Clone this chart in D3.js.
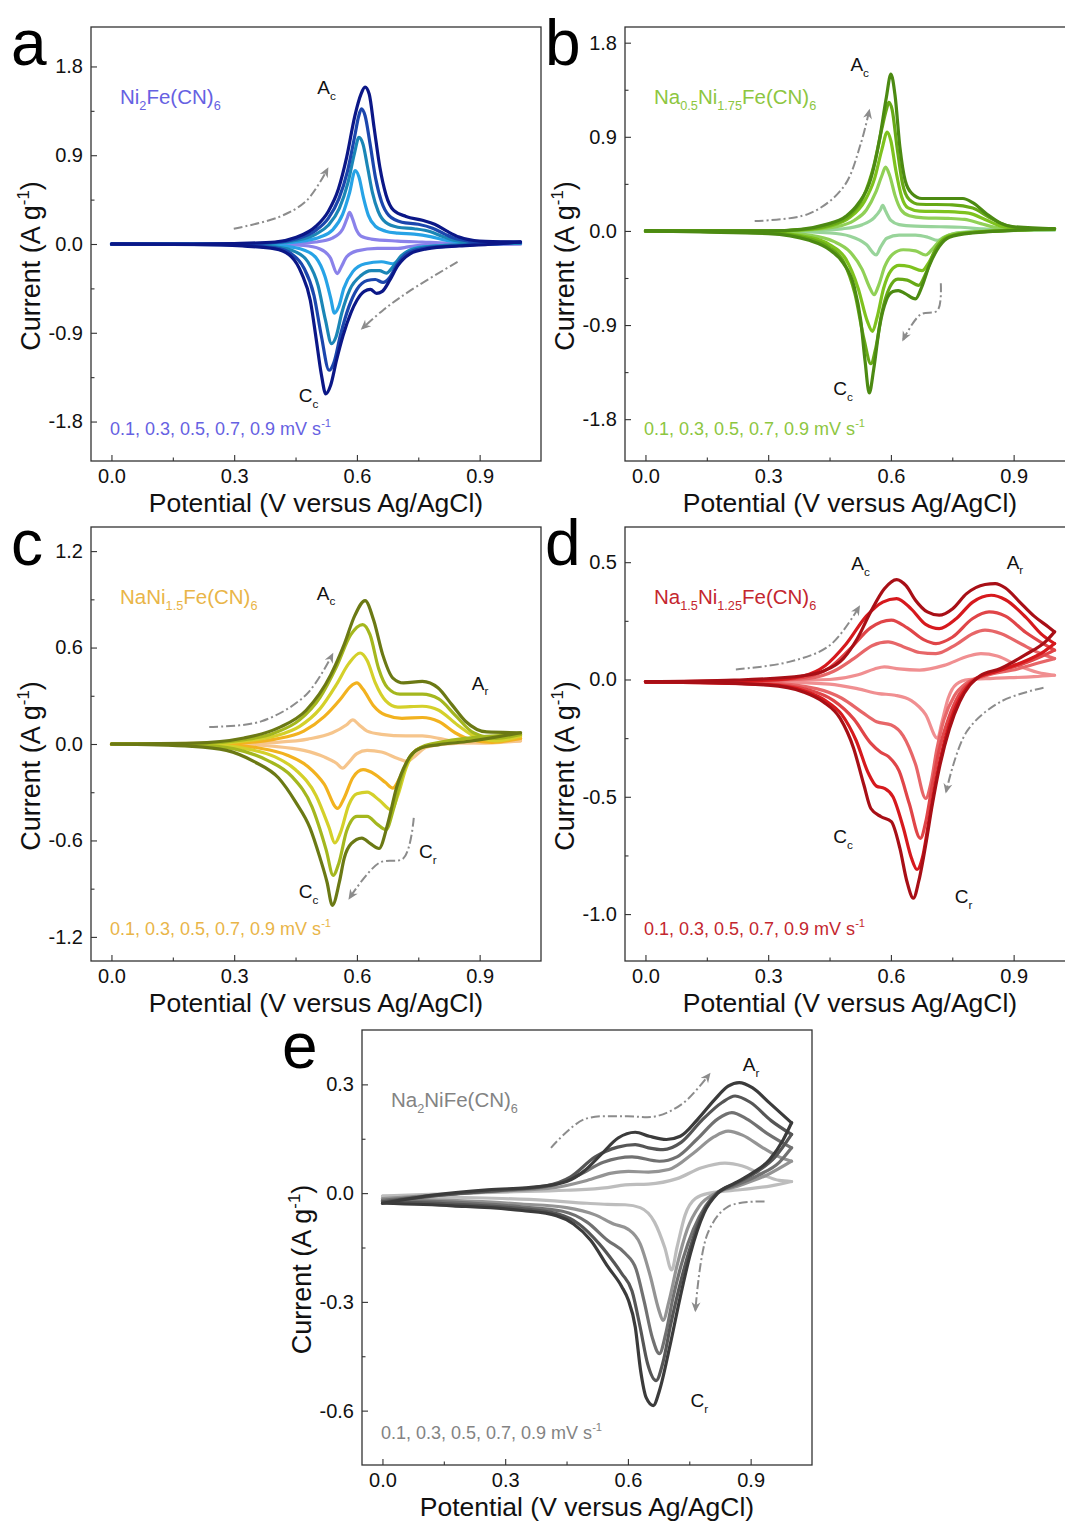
<!DOCTYPE html>
<html>
<head>
<meta charset="utf-8">
<script src="https://cdn.jsdelivr.net/npm/d3@7"></script>
<style>
  body { margin: 0; background: #fff; }
  svg { display: block; font-family: "Liberation Sans", Arial, sans-serif; }
</style>
</head>
<body>
<svg id="chart" width="1065" height="1522"></svg>
<script>
const scanRates = [0.1, 0.3, 0.5, 0.7, 0.9];
const rateText = "0.1, 0.3, 0.5, 0.7, 0.9 mV s";
const xMajor = [0, 0.3, 0.6, 0.9];
const xMinor = [0.15, 0.45, 0.75];

// ---- panel a : Ni2Fe(CN)6 ----
const aYMajor = [-1.8, -0.9, 0, 0.9, 1.8];
const aYMinor = [-1.35, -0.45, 0.45, 1.35];
const aColors = ['#8a82ea', '#27a3e6', '#1b86b6', '#1b46ad', '#0b1787'];
const aOx = [
  [[0,0],[0.3,0],[0.45,0.005],[0.5,0.02],[0.54,0.06],[0.565,0.15],[0.576,0.26],[0.582,0.32],[0.589,0.26],[0.598,0.15],[0.61,0.08],[0.635,0.05],[0.7,0.03],[0.76,0.02],[0.82,0.01],[1.0,0.0]],
  [[0,0],[0.35,0],[0.42,0.01],[0.47,0.03],[0.51,0.07],[0.54,0.14],[0.565,0.3],[0.582,0.52],[0.596,0.745],[0.605,0.68],[0.616,0.47],[0.628,0.29],[0.645,0.18],[0.67,0.13],[0.7,0.11],[0.74,0.1],[0.78,0.075],[0.82,0.035],[0.86,0.015],[0.92,0.005],[1.0,0.01]],
  [[0,0],[0.3,0],[0.4,0.01],[0.45,0.035],[0.5,0.1],[0.53,0.19],[0.557,0.36],[0.578,0.62],[0.594,0.92],[0.605,1.08],[0.615,1.01],[0.626,0.78],[0.638,0.52],[0.652,0.33],[0.67,0.22],[0.7,0.17],[0.74,0.155],[0.78,0.125],[0.81,0.075],[0.84,0.035],[0.88,0.015],[1.0,0.01]],
  [[0,0],[0.3,0],[0.4,0.015],[0.45,0.05],[0.5,0.14],[0.53,0.26],[0.556,0.46],[0.577,0.74],[0.595,1.1],[0.604,1.29],[0.611,1.37],[0.62,1.3],[0.632,1.02],[0.646,0.66],[0.66,0.43],[0.678,0.29],[0.71,0.22],[0.75,0.2],[0.785,0.16],[0.815,0.1],[0.845,0.05],[0.9,0.02],[1.0,0.02]],
  [[0,0],[0.2,0],[0.3,0.005],[0.4,0.02],[0.45,0.065],[0.5,0.18],[0.53,0.33],[0.555,0.56],[0.575,0.88],[0.595,1.3],[0.61,1.52],[0.62,1.59],[0.63,1.52],[0.642,1.18],[0.656,0.78],[0.671,0.5],[0.69,0.34],[0.72,0.28],[0.76,0.24],[0.79,0.2],[0.82,0.13],[0.85,0.07],[0.9,0.03],[1.0,0.02]]
];
const aRed = [
  [[0,0],[0.4,-0.005],[0.47,-0.015],[0.51,-0.05],[0.535,-0.14],[0.552,-0.3],[0.562,-0.23],[0.575,-0.13],[0.6,-0.07],[0.65,-0.045],[0.7,-0.045],[0.725,-0.03],[0.76,-0.012],[0.85,-0.005],[1.0,0.0]],
  [[0,0],[0.35,-0.005],[0.42,-0.02],[0.47,-0.06],[0.5,-0.14],[0.522,-0.33],[0.536,-0.55],[0.545,-0.7],[0.555,-0.64],[0.568,-0.45],[0.59,-0.28],[0.62,-0.2],[0.66,-0.18],[0.688,-0.2],[0.703,-0.16],[0.722,-0.08],[0.76,-0.03],[0.85,-0.01],[1.0,0.01]],
  [[0,0],[0.3,-0.005],[0.4,-0.03],[0.45,-0.08],[0.48,-0.18],[0.505,-0.42],[0.523,-0.77],[0.538,-1.01],[0.549,-0.94],[0.563,-0.7],[0.583,-0.46],[0.61,-0.32],[0.635,-0.27],[0.655,-0.27],[0.672,-0.295],[0.688,-0.23],[0.708,-0.12],[0.74,-0.05],[0.8,-0.02],[1.0,0.01]],
  [[0,0],[0.3,-0.01],[0.4,-0.04],[0.44,-0.1],[0.47,-0.24],[0.495,-0.52],[0.513,-0.93],[0.532,-1.28],[0.544,-1.2],[0.56,-0.92],[0.58,-0.64],[0.6,-0.46],[0.625,-0.37],[0.645,-0.36],[0.664,-0.39],[0.68,-0.34],[0.698,-0.21],[0.725,-0.09],[0.77,-0.04],[0.85,-0.015],[1.0,0.02]],
  [[0,0],[0.2,-0.005],[0.32,-0.02],[0.4,-0.05],[0.44,-0.13],[0.465,-0.3],[0.486,-0.57],[0.5,-0.95],[0.513,-1.32],[0.524,-1.52],[0.536,-1.43],[0.55,-1.18],[0.566,-0.93],[0.585,-0.7],[0.6,-0.57],[0.618,-0.48],[0.633,-0.46],[0.648,-0.5],[0.662,-0.48],[0.68,-0.37],[0.7,-0.22],[0.73,-0.1],[0.77,-0.05],[0.85,-0.02],[0.92,-0.005],[1.0,0.02]]
];
const aPeaks = [[0.503, 1.52, 'A', 'c'], [0.458, -1.6, 'C', 'c']];
const aArrows = [
  [[0.299,0.155],[0.409,0.273],[0.477,0.44],[0.528,0.76]],
  [[0.846,-0.182],[0.732,-0.468],[0.664,-0.671],[0.613,-0.856]]
];

// ---- panel b : Na0.5Ni1.75Fe(CN)6 ----
const bYMajor = [-1.8, -0.9, 0, 0.9, 1.8];
const bYMinor = [-1.35, -0.45, 0.45, 1.35];
const bColors = ['#98d49a', '#90d056', '#7ec21e', '#67a916', '#4c8a12'];
const bOx = [
  [[0,0],[0.3,0],[0.42,0.005],[0.48,0.02],[0.53,0.06],[0.56,0.13],[0.574,0.2],[0.58,0.245],[0.587,0.19],[0.6,0.1],[0.62,0.06],[0.66,0.045],[0.72,0.04],[0.77,0.035],[0.82,0.02],[0.88,0.01],[1.0,0.01]],
  [[0,0],[0.3,0],[0.4,0.01],[0.46,0.035],[0.51,0.1],[0.54,0.2],[0.563,0.37],[0.578,0.53],[0.587,0.61],[0.597,0.53],[0.61,0.34],[0.625,0.2],[0.645,0.145],[0.68,0.125],[0.74,0.12],[0.78,0.11],[0.82,0.07],[0.86,0.03],[0.92,0.015],[1.0,0.015]],
  [[0,0],[0.3,0],[0.4,0.015],[0.45,0.045],[0.5,0.13],[0.535,0.28],[0.56,0.5],[0.578,0.78],[0.591,0.945],[0.6,0.86],[0.612,0.58],[0.626,0.33],[0.642,0.22],[0.67,0.19],[0.74,0.185],[0.79,0.17],[0.83,0.11],[0.87,0.045],[0.92,0.02],[1.0,0.02]],
  [[0,0],[0.3,0],[0.39,0.015],[0.45,0.055],[0.5,0.15],[0.532,0.32],[0.558,0.62],[0.578,0.98],[0.589,1.16],[0.595,1.23],[0.603,1.16],[0.615,0.8],[0.628,0.46],[0.645,0.3],[0.67,0.255],[0.75,0.25],[0.8,0.22],[0.84,0.13],[0.88,0.055],[0.93,0.025],[1.0,0.02]],
  [[0,0],[0.3,0],[0.38,0.015],[0.44,0.06],[0.49,0.14],[0.52,0.26],[0.551,0.5],[0.572,0.87],[0.589,1.28],[0.6,1.5],[0.61,1.3],[0.622,0.8],[0.635,0.48],[0.651,0.36],[0.676,0.31],[0.776,0.31],[0.8,0.27],[0.835,0.16],[0.868,0.075],[0.9,0.04],[1.0,0.02]]
];
const bRed = [
  [[0,0],[0.35,-0.005],[0.45,-0.02],[0.5,-0.05],[0.54,-0.13],[0.564,-0.23],[0.574,-0.16],[0.59,-0.07],[0.62,-0.04],[0.66,-0.04],[0.69,-0.06],[0.714,-0.09],[0.73,-0.06],[0.76,-0.02],[0.82,-0.005],[1.0,0.01]],
  [[0,0],[0.3,-0.01],[0.4,-0.04],[0.46,-0.1],[0.5,-0.2],[0.53,-0.37],[0.548,-0.54],[0.559,-0.61],[0.57,-0.52],[0.585,-0.34],[0.605,-0.22],[0.63,-0.18],[0.66,-0.19],[0.685,-0.23],[0.7,-0.18],[0.72,-0.09],[0.75,-0.03],[0.8,-0.01],[1.0,0.015]],
  [[0,0],[0.3,-0.015],[0.4,-0.06],[0.45,-0.13],[0.49,-0.27],[0.52,-0.55],[0.542,-0.86],[0.555,-0.96],[0.566,-0.83],[0.582,-0.55],[0.6,-0.38],[0.62,-0.33],[0.645,-0.34],[0.676,-0.38],[0.693,-0.3],[0.713,-0.15],[0.74,-0.05],[0.8,-0.015],[1.0,0.02]],
  [[0,0],[0.3,-0.02],[0.4,-0.075],[0.45,-0.16],[0.485,-0.3],[0.512,-0.6],[0.535,-1.05],[0.551,-1.27],[0.563,-1.12],[0.578,-0.78],[0.597,-0.54],[0.617,-0.46],[0.64,-0.47],[0.668,-0.52],[0.685,-0.41],[0.705,-0.21],[0.73,-0.08],[0.78,-0.02],[1.0,0.02]],
  [[0,0],[0.134,-0.01],[0.3,-0.025],[0.4,-0.09],[0.45,-0.18],[0.484,-0.31],[0.51,-0.53],[0.526,-0.85],[0.537,-1.25],[0.547,-1.55],[0.558,-1.32],[0.572,-0.92],[0.589,-0.66],[0.605,-0.58],[0.618,-0.57],[0.635,-0.6],[0.66,-0.65],[0.676,-0.53],[0.693,-0.34],[0.718,-0.15],[0.743,-0.06],[0.8,-0.02],[1.0,0.02]]
];
const bPeaks = [[0.501, 1.527, 'A', 'c'], [0.459, -1.569, 'C', 'c']];
const bArrows = [
  [[0.267,0.095],[0.4,0.165],[0.484,0.42],[0.526,0.83],[0.547,1.15]],
  [[0.722,-0.5],[0.714,-0.76],[0.672,-0.8],[0.63,-1.04]]
];

// ---- panel c : NaNi1.5Fe(CN)6 ----
const cYMajor = [-1.2, -0.6, 0, 0.6, 1.2];
const cYMinor = [-0.9, -0.3, 0.3, 0.9];
const cColors = ['#f6c58c', '#f2b21f', '#d4d02a', '#a4b71e', '#6b7914'];
const cOx = [
  [[0,0],[0.3,0.002],[0.4,0.01],[0.48,0.03],[0.54,0.07],[0.575,0.12],[0.59,0.15],[0.605,0.12],[0.625,0.08],[0.66,0.06],[0.72,0.05],[0.76,0.05],[0.8,0.035],[0.84,0.015],[0.9,0.005],[1.0,0.02]],
  [[0,0],[0.3,0.005],[0.4,0.03],[0.47,0.08],[0.52,0.17],[0.56,0.28],[0.585,0.36],[0.6,0.38],[0.615,0.34],[0.64,0.24],[0.67,0.18],[0.71,0.16],[0.76,0.165],[0.8,0.14],[0.84,0.07],[0.88,0.025],[0.93,0.01],[1.0,0.035]],
  [[0,0],[0.25,0.003],[0.33,0.02],[0.4,0.05],[0.46,0.11],[0.51,0.22],[0.55,0.37],[0.58,0.5],[0.608,0.566],[0.625,0.52],[0.645,0.38],[0.67,0.27],[0.7,0.23],[0.76,0.235],[0.8,0.21],[0.845,0.12],[0.89,0.045],[0.94,0.02],[1.0,0.05]],
  [[0,0],[0.22,0.003],[0.32,0.025],[0.4,0.07],[0.46,0.15],[0.51,0.29],[0.55,0.48],[0.585,0.68],[0.614,0.743],[0.632,0.68],[0.653,0.47],[0.675,0.35],[0.705,0.31],[0.76,0.31],[0.8,0.28],[0.84,0.18],[0.885,0.07],[0.94,0.035],[1.0,0.06]],
  [[0,0],[0.2,0.005],[0.324,0.037],[0.408,0.1],[0.476,0.21],[0.536,0.43],[0.569,0.62],[0.595,0.8],[0.62,0.892],[0.641,0.77],[0.663,0.556],[0.688,0.41],[0.714,0.38],[0.76,0.39],[0.798,0.35],[0.832,0.245],[0.866,0.14],[0.917,0.075],[1.0,0.07]]
];
const cRed = [
  [[0,0],[0.3,-0.003],[0.4,-0.015],[0.47,-0.04],[0.52,-0.08],[0.55,-0.12],[0.565,-0.15],[0.578,-0.12],[0.6,-0.06],[0.625,-0.04],[0.66,-0.05],[0.7,-0.09],[0.722,-0.108],[0.74,-0.08],[0.77,-0.02],[0.82,0],[1.0,0.02]],
  [[0,0],[0.28,-0.005],[0.36,-0.025],[0.43,-0.07],[0.48,-0.14],[0.52,-0.25],[0.553,-0.4],[0.568,-0.34],[0.59,-0.21],[0.615,-0.16],[0.645,-0.19],[0.67,-0.24],[0.688,-0.274],[0.705,-0.21],[0.725,-0.1],[0.75,-0.03],[0.8,0],[1.0,0.035]],
  [[0,0],[0.25,-0.005],[0.33,-0.03],[0.4,-0.08],[0.45,-0.16],[0.5,-0.32],[0.532,-0.52],[0.546,-0.616],[0.56,-0.55],[0.58,-0.38],[0.6,-0.31],[0.625,-0.3],[0.655,-0.35],[0.684,-0.41],[0.7,-0.32],[0.72,-0.15],[0.745,-0.04],[0.79,0],[1.0,0.05]],
  [[0,0],[0.22,-0.008],[0.3,-0.03],[0.38,-0.1],[0.44,-0.2],[0.49,-0.39],[0.525,-0.66],[0.542,-0.817],[0.556,-0.74],[0.575,-0.54],[0.6,-0.45],[0.625,-0.45],[0.65,-0.5],[0.671,-0.533],[0.69,-0.4],[0.71,-0.2],[0.735,-0.06],[0.78,0],[1.0,0.06]],
  [[0,0],[0.197,-0.015],[0.281,-0.04],[0.349,-0.11],[0.408,-0.21],[0.45,-0.36],[0.485,-0.52],[0.51,-0.71],[0.527,-0.86],[0.54,-1.004],[0.557,-0.86],[0.569,-0.71],[0.586,-0.62],[0.612,-0.585],[0.633,-0.62],[0.654,-0.65],[0.675,-0.5],[0.697,-0.27],[0.722,-0.11],[0.756,-0.025],[0.798,-0.005],[0.875,0.017],[1.0,0.07]]
];
const cPeaks = [[0.502, 0.898, 'A', 'c'], [0.881, 0.338, 'A', 'r'], [0.458, -0.958, 'C', 'c'], [0.752, -0.71, 'C', 'r']];
const cArrows = [
  [[0.239,0.106],[0.366,0.141],[0.476,0.307],[0.54,0.556]],
  [[0.739,-0.46],[0.714,-0.71],[0.654,-0.74],[0.582,-0.958]]
];

// ---- panel d : Na1.5Ni1.25Fe(CN)6 ----
const dYMajor = [-1.0, -0.5, 0, 0.5];
const dYMinor = [-0.75, -0.25, 0.25];
const dColors = ['#f08f91', '#e76668', '#e04548', '#d6191d', '#a80f16'];
const dOx = [
  [[0,-0.01],[0.3,-0.005],[0.45,0.0],[0.52,0.02],[0.56,0.045],[0.584,0.054],[0.62,0.045],[0.67,0.04],[0.73,0.06],[0.79,0.1],[0.82,0.11],[0.86,0.1],[0.91,0.06],[0.96,0.03],[1.0,0.018]],
  [[0,-0.01],[0.3,-0.004],[0.4,0.005],[0.46,0.035],[0.51,0.09],[0.555,0.145],[0.593,0.16],[0.63,0.14],[0.67,0.115],[0.71,0.11],[0.76,0.15],[0.8,0.195],[0.83,0.21],[0.87,0.195],[0.92,0.15],[0.96,0.115],[1.0,0.089]],
  [[0,-0.01],[0.3,-0.003],[0.39,0.01],[0.45,0.05],[0.5,0.13],[0.55,0.22],[0.601,0.253],[0.64,0.22],[0.68,0.17],[0.71,0.153],[0.75,0.18],[0.8,0.26],[0.84,0.288],[0.88,0.27],[0.93,0.2],[0.97,0.155],[1.0,0.125]],
  [[0,-0.01],[0.3,-0.003],[0.385,0.015],[0.44,0.06],[0.49,0.15],[0.54,0.27],[0.58,0.33],[0.614,0.345],[0.65,0.3],[0.685,0.235],[0.718,0.217],[0.76,0.26],[0.8,0.33],[0.845,0.359],[0.88,0.34],[0.93,0.265],[0.97,0.19],[1.0,0.153]],
  [[0,-0.01],[0.217,-0.003],[0.384,0.016],[0.434,0.035],[0.484,0.09],[0.518,0.175],[0.551,0.29],[0.584,0.387],[0.614,0.426],[0.637,0.4],[0.66,0.338],[0.689,0.288],[0.718,0.274],[0.751,0.302],[0.785,0.366],[0.83,0.405],[0.855,0.409],[0.88,0.39],[0.915,0.33],[0.95,0.27],[0.985,0.224],[1.0,0.203]]
];
const dRed = [
  [[0,-0.01],[0.3,-0.01],[0.45,-0.02],[0.52,-0.04],[0.57,-0.06],[0.61,-0.067],[0.65,-0.09],[0.685,-0.15],[0.714,-0.251],[0.725,-0.18],[0.74,-0.08],[0.76,-0.02],[0.79,0.0],[0.85,0.005],[0.95,0.012],[1.0,0.018]],
  [[0,-0.01],[0.3,-0.015],[0.42,-0.04],[0.48,-0.08],[0.53,-0.14],[0.565,-0.18],[0.601,-0.194],[0.63,-0.24],[0.66,-0.36],[0.685,-0.507],[0.698,-0.44],[0.712,-0.3],[0.73,-0.17],[0.755,-0.07],[0.785,-0.015],[0.83,0.015],[0.91,0.045],[0.96,0.07],[1.0,0.089]],
  [[0,-0.01],[0.3,-0.02],[0.4,-0.045],[0.46,-0.09],[0.51,-0.17],[0.55,-0.27],[0.575,-0.31],[0.595,-0.33],[0.62,-0.39],[0.645,-0.53],[0.672,-0.677],[0.686,-0.6],[0.7,-0.46],[0.718,-0.3],[0.74,-0.17],[0.765,-0.07],[0.795,-0.01],[0.84,0.025],[0.92,0.065],[0.97,0.1],[1.0,0.125]],
  [[0,-0.01],[0.3,-0.022],[0.39,-0.05],[0.44,-0.09],[0.48,-0.15],[0.515,-0.26],[0.545,-0.4],[0.565,-0.455],[0.584,-0.464],[0.605,-0.5],[0.63,-0.63],[0.65,-0.76],[0.664,-0.81],[0.677,-0.76],[0.693,-0.6],[0.71,-0.43],[0.73,-0.27],[0.755,-0.13],[0.785,-0.035],[0.81,0.005],[0.86,0.035],[0.93,0.08],[0.975,0.12],[1.0,0.153]],
  [[0,-0.01],[0.134,-0.012],[0.3,-0.024],[0.384,-0.052],[0.434,-0.095],[0.476,-0.166],[0.509,-0.294],[0.534,-0.45],[0.551,-0.55],[0.576,-0.585],[0.601,-0.606],[0.622,-0.72],[0.639,-0.86],[0.655,-0.932],[0.668,-0.86],[0.685,-0.705],[0.701,-0.535],[0.718,-0.38],[0.743,-0.21],[0.768,-0.095],[0.793,-0.024],[0.818,0.016],[0.868,0.047],[0.927,0.104],[0.98,0.165],[1.0,0.203]]
];
const dPeaks = [[0.503, 0.465, 'A', 'c'], [0.883, 0.473, 'A', 'r'], [0.459, -0.698, 'C', 'c'], [0.756, -0.954, 'C', 'r']];
const dArrows = [
  [[0.221,0.043],[0.351,0.075],[0.451,0.146],[0.522,0.309]],
  [[0.973,-0.035],[0.868,-0.095],[0.785,-0.223],[0.735,-0.478]]
];

// ---- panel e : Na2NiFe(CN)6 ----
const eYMajor = [-0.6, -0.3, 0, 0.3];
const eYMinor = [-0.45, -0.15, 0.15];
const eColors = ['#bdbdbd', '#949494', '#717171', '#565656', '#3b3b3b'];
const eOx = [
  [[0,-0.008],[0.15,-0.002],[0.3,0.003],[0.45,0.008],[0.55,0.015],[0.593,0.023],[0.65,0.025],[0.72,0.04],[0.78,0.07],[0.837,0.083],[0.88,0.075],[0.93,0.05],[0.97,0.035],[1.0,0.032]],
  [[0,-0.015],[0.15,-0.004],[0.3,0.006],[0.42,0.015],[0.5,0.035],[0.56,0.055],[0.601,0.06],[0.65,0.058],[0.7,0.065],[0.76,0.11],[0.81,0.155],[0.845,0.171],[0.88,0.16],[0.93,0.125],[0.97,0.1],[1.0,0.088]],
  [[0,-0.02],[0.15,-0.004],[0.3,0.008],[0.41,0.02],[0.48,0.05],[0.54,0.085],[0.61,0.1],[0.677,0.088],[0.72,0.1],[0.77,0.15],[0.82,0.205],[0.854,0.222],[0.89,0.205],[0.94,0.165],[1.0,0.125]],
  [[0,-0.024],[0.15,-0.005],[0.3,0.009],[0.4,0.02],[0.46,0.045],[0.52,0.1],[0.575,0.127],[0.618,0.134],[0.65,0.125],[0.686,0.12],[0.73,0.14],[0.78,0.2],[0.83,0.25],[0.862,0.268],[0.9,0.25],[0.95,0.2],[1.0,0.162]],
  [[0,-0.028],[0.13,-0.005],[0.257,0.009],[0.383,0.018],[0.45,0.032],[0.492,0.06],[0.534,0.106],[0.576,0.152],[0.618,0.168],[0.652,0.157],[0.694,0.148],[0.728,0.157],[0.77,0.203],[0.812,0.258],[0.845,0.295],[0.872,0.305],[0.904,0.291],[0.946,0.249],[1.0,0.194]]
];
const eRed = [
  [[0,-0.008],[0.2,-0.012],[0.4,-0.02],[0.5,-0.028],[0.55,-0.031],[0.593,-0.032],[0.63,-0.04],[0.665,-0.08],[0.69,-0.15],[0.707,-0.212],[0.72,-0.15],[0.74,-0.06],[0.765,-0.015],[0.8,0.0],[0.88,0.01],[0.95,0.02],[1.0,0.032]],
  [[0,-0.015],[0.17,-0.02],[0.34,-0.03],[0.45,-0.04],[0.52,-0.06],[0.565,-0.085],[0.601,-0.1],[0.63,-0.14],[0.655,-0.23],[0.675,-0.32],[0.686,-0.351],[0.7,-0.3],[0.72,-0.2],[0.745,-0.1],[0.775,-0.035],[0.815,0.0],[0.87,0.02],[0.94,0.05],[1.0,0.088]],
  [[0,-0.02],[0.17,-0.025],[0.34,-0.038],[0.44,-0.05],[0.5,-0.08],[0.55,-0.13],[0.593,-0.166],[0.62,-0.21],[0.64,-0.3],[0.66,-0.4],[0.677,-0.443],[0.692,-0.39],[0.71,-0.29],[0.735,-0.18],[0.76,-0.1],[0.79,-0.035],[0.817,0.0],[0.86,0.02],[0.92,0.05],[0.97,0.085],[1.0,0.125]],
  [[0,-0.024],[0.17,-0.03],[0.34,-0.043],[0.43,-0.058],[0.48,-0.085],[0.53,-0.14],[0.565,-0.19],[0.585,-0.222],[0.61,-0.27],[0.63,-0.37],[0.648,-0.47],[0.669,-0.517],[0.685,-0.47],[0.705,-0.36],[0.73,-0.24],[0.755,-0.14],[0.785,-0.05],[0.818,0.0],[0.86,0.025],[0.91,0.055],[0.96,0.1],[1.0,0.162]],
  [[0,-0.028],[0.172,-0.035],[0.341,-0.048],[0.425,-0.062],[0.467,-0.085],[0.509,-0.13],[0.551,-0.203],[0.585,-0.258],[0.601,-0.295],[0.618,-0.369],[0.631,-0.489],[0.645,-0.565],[0.662,-0.586],[0.677,-0.545],[0.702,-0.425],[0.728,-0.286],[0.753,-0.166],[0.786,-0.055],[0.82,0.0],[0.862,0.028],[0.904,0.055],[0.946,0.092],[0.98,0.148],[1.0,0.194]]
];
const ePeaks = [[0.881, 0.337, 'A', 'r'], [0.753, -0.591, 'C', 'r']];
const eArrows = [
  [[0.412,0.125],[0.492,0.203],[0.593,0.212],[0.669,0.212],[0.736,0.249],[0.799,0.328]],
  [[0.934,-0.023],[0.845,-0.037],[0.795,-0.111],[0.765,-0.323]]
];

const panels = [
  {letter: 'a', left: 91, top: 27, h: 434, yDomain: [-2.2, 2.2], yMajor: aYMajor, yMinor: aYMinor,
   ox: aOx, red: aRed, colors: aColors, peaks: aPeaks, arrows: aArrows,
   name: [['Ni', ''], ['2', 'sub'], ['Fe(CN)', ''], ['6', 'sub']], nameColor: '#6661e2'},
  {letter: 'b', left: 625, top: 27, h: 434, yDomain: [-2.2, 1.95], yMajor: bYMajor, yMinor: bYMinor,
   ox: bOx, red: bRed, colors: bColors, peaks: bPeaks, arrows: bArrows,
   name: [['Na', ''], ['0.5', 'sub'], ['Ni', ''], ['1.75', 'sub'], ['Fe(CN)', ''], ['6', 'sub']], nameColor: '#8dc63f'},
  {letter: 'c', left: 91, top: 527, h: 434, yDomain: [-1.35, 1.35], yMajor: cYMajor, yMinor: cYMinor,
   ox: cOx, red: cRed, colors: cColors, peaks: cPeaks, arrows: cArrows,
   name: [['NaNi', ''], ['1.5', 'sub'], ['Fe(CN)', ''], ['6', 'sub']], nameColor: '#e9b548'},
  {letter: 'd', left: 625, top: 527, h: 434, yDomain: [-1.2, 0.65], yMajor: dYMajor, yMinor: dYMinor,
   ox: dOx, red: dRed, colors: dColors, peaks: dPeaks, arrows: dArrows,
   name: [['Na', ''], ['1.5', 'sub'], ['Ni', ''], ['1.25', 'sub'], ['Fe(CN)', ''], ['6', 'sub']], nameColor: '#c4262e'},
  {letter: 'e', left: 362, top: 1030, h: 435, yDomain: [-0.75, 0.45], yMajor: eYMajor, yMinor: eYMinor,
   ox: eOx, red: eRed, colors: eColors, peaks: ePeaks, arrows: eArrows,
   name: [['Na', ''], ['2', 'sub'], ['NiFe(CN)', ''], ['6', 'sub']], nameColor: '#838383'}
];

const W = 450;
const svg = d3.select('#chart');

svg.append('defs').append('marker')
  .attr('id', 'arrowhead')
  .attr('markerUnits', 'userSpaceOnUse')
  .attr('viewBox', '0 0 10 10')
  .attr('refX', 8).attr('refY', 5)
  .attr('markerWidth', 11).attr('markerHeight', 10)
  .attr('orient', 'auto')
  .append('path')
  .attr('d', 'M0,0.5 L10,5 L0,9.5 L3,5 z')
  .attr('fill', '#8c8c8c');

// text with sub/superscript pieces, dy shifts relative to the previous piece
const richText = (sel, parts, size) => {
  let shift = 0;
  parts.forEach(([t, kind]) => {
    const target = kind === 'sub' ? size * 0.3 : kind === 'sup' ? -size * 0.42 : 0;
    sel.append('tspan')
      .attr('dy', target - shift)
      .attr('font-size', kind ? size * 0.62 : size)
      .text(t);
    shift = target;
  });
};

const fmt = v => v.toFixed(1);

panels.forEach(p => {
  const g = svg.append('g').attr('transform', `translate(${p.left},${p.top})`);
  const x = d3.scaleLinear().domain([-0.05, 1.05]).range([0, W]);
  const y = d3.scaleLinear().domain(p.yDomain).range([p.h, 0]);

  // axes, ticks pointing inward
  g.append('g').attr('transform', `translate(0,${p.h})`)
    .call(d3.axisBottom(x).tickValues(xMajor).tickSizeInner(-6).tickSizeOuter(0).tickPadding(8).tickFormat(fmt));
  g.append('g').attr('transform', `translate(0,${p.h})`)
    .call(d3.axisBottom(x).tickValues(xMinor).tickSizeInner(-3.5).tickSizeOuter(0).tickFormat(''));
  g.append('g')
    .call(d3.axisLeft(y).tickValues(p.yMajor).tickSizeInner(-6).tickSizeOuter(0).tickPadding(8).tickFormat(fmt));
  g.append('g')
    .call(d3.axisLeft(y).tickValues(p.yMinor).tickSizeInner(-3.5).tickSizeOuter(0).tickFormat(''));
  g.selectAll('.domain').remove();
  g.selectAll('.tick line').attr('stroke', '#333').attr('stroke-width', 1.1);
  g.selectAll('.tick text').attr('font-size', 20).attr('fill', '#111')
    .attr('font-family', '"Liberation Sans", Arial, sans-serif');

  // CV loops, slowest scan first so the fast ones sit on top
  const line = d3.line().x(d => x(d[0])).y(d => y(d[1])).curve(d3.curveMonotoneX);
  scanRates.forEach((r, i) => {
    [p.ox[i], p.red[i]].forEach(branch => {
      g.append('path')
        .datum(branch)
        .attr('d', line)
        .attr('fill', 'none')
        .attr('stroke', p.colors[i])
        .attr('stroke-width', 3.2)
        .attr('stroke-linecap', 'round')
        .attr('stroke-linejoin', 'round');
    });
  });

  // scan direction arrows
  const arrowLine = d3.line().x(d => x(d[0])).y(d => y(d[1])).curve(d3.curveCatmullRom);
  p.arrows.forEach(a => {
    g.append('path')
      .datum(a)
      .attr('d', arrowLine)
      .attr('fill', 'none')
      .attr('stroke', '#8c8c8c')
      .attr('stroke-width', 2)
      .attr('stroke-dasharray', '9,3,2,3')
      .attr('marker-end', 'url(#arrowhead)');
  });

  // peak labels
  p.peaks.forEach(([v, c, main, sub]) => {
    const t = g.append('text')
      .attr('x', x(v)).attr('y', y(c))
      .attr('fill', '#111');
    richText(t, [[main, ''], [sub, 'sub']], 19);
  });

  // compound name and scan rates
  const nameText = g.append('text').attr('x', 29).attr('y', 77).attr('fill', p.nameColor);
  richText(nameText, p.name, 20.5);
  const rate = g.append('text').attr('x', 19).attr('y', p.h - 26).attr('fill', p.nameColor);
  richText(rate, [[rateText, ''], ['-1', 'sup']], 18);

  // frame
  g.append('rect')
    .attr('width', W).attr('height', p.h)
    .attr('fill', 'none')
    .attr('stroke', '#333')
    .attr('stroke-width', 1.3);

  // axis titles
  g.append('text')
    .attr('x', W / 2).attr('y', p.h + 51)
    .attr('text-anchor', 'middle')
    .attr('font-size', 26.5)
    .attr('fill', '#111')
    .text('Potential (V versus Ag/AgCl)');
  const yt = g.append('text')
    .attr('transform', `translate(-51,${p.h / 2 + 22}) rotate(-90)`)
    .attr('text-anchor', 'middle')
    .attr('fill', '#111');
  richText(yt, [['Current (A g', ''], ['-1', 'sup'], [')', '']], 27);

  // panel letter
  g.append('text')
    .attr('x', -80).attr('y', 38)
    .attr('font-size', 64)
    .attr('fill', '#000')
    .text(p.letter);
});
</script>
</body>
</html>
